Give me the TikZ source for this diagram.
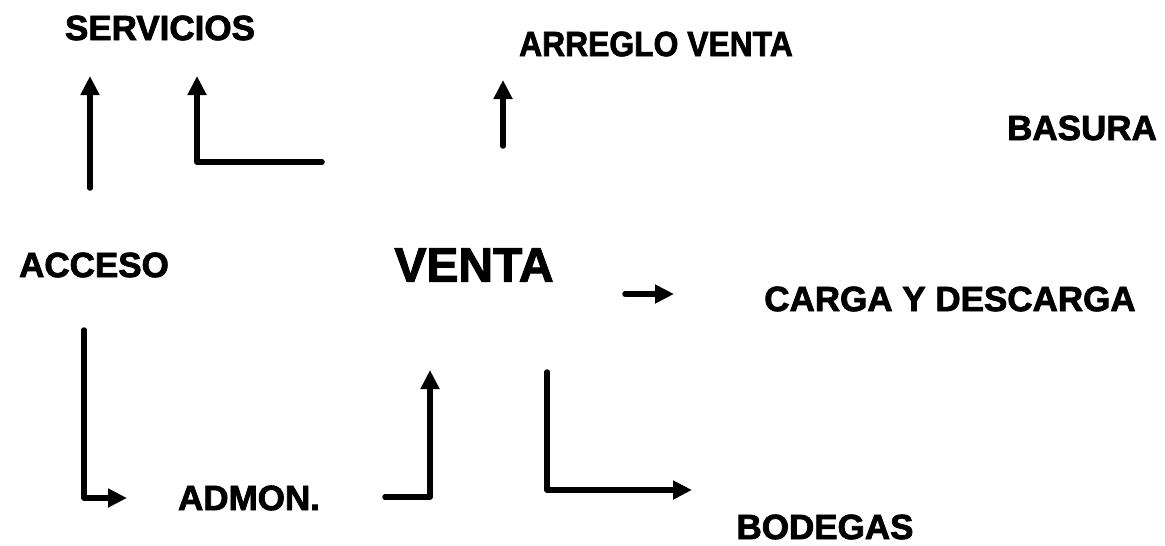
\documentclass[tikz,border=0pt]{standalone}
\usepackage{fontspec}
\setmainfont{Liberation Sans}[BoldFeatures={FakeBold=2.2}]
\usetikzlibrary{arrows.meta}
\begin{document}
\begin{tikzpicture}[x=1pt,y=-1pt,
  lbl/.style={font=\bfseries\fontsize{35}{40}\selectfont, inner sep=0pt, anchor=center},
  big/.style={font=\bfseries\fontsize{48}{54}\selectfont, inner sep=0pt, anchor=center},
  arr/.style={line width=5.5pt, line cap=round, line join=round, -{Triangle[length=19pt,width=18pt]}}]
\useasboundingbox (0,0) rectangle (1165,546);
\node[lbl] (serv) at (160,28) {SERVICIOS};
\node[lbl, xscale=0.91] (arr) at (656,44) {ARREGLO VENTA};
\node[lbl] (bas) at (1082,128) {BASURA};
\node[lbl] (acc) at (94,265) {ACCESO};
\node[big] (ven) at (474,265) {VENTA};
\node[lbl] (car) at (950,299) {CARGA Y DESCARGA};
\node[lbl] (adm) at (249,498) {ADMON.};
\node[lbl] (bod) at (825,527) {BODEGAS};
% coordinates
\coordinate (a1s) at (90,188); \coordinate (a1e) at (90,76);
\coordinate (a2s) at (322,162); \coordinate (a2c) at (197,162); \coordinate (a2e) at (197,76);
\coordinate (a3s) at (503,146); \coordinate (a3e) at (503,80);
\coordinate (a4s) at (625,294); \coordinate (a4e) at (674,294);
\coordinate (a5s) at (84,330); \coordinate (a5c) at (84,498); \coordinate (a5e) at (127,498);
\coordinate (a6s) at (385,497); \coordinate (a6c) at (430,497); \coordinate (a6e) at (430,370);
\coordinate (a7s) at (547,372); \coordinate (a7c) at (547,490); \coordinate (a7e) at (692,490);
\draw[arr] (a1s) -- (a1e);
\draw[arr] (a2s) -- (a2c) -- (a2e);
\draw[arr] (a3s) -- (a3e);
\draw[arr] (a4s) -- (a4e);
\draw[arr] (a5s) -- (a5c) -- (a5e);
\draw[arr] (a6s) -- (a6c) -- (a6e);
\draw[arr] (a7s) -- (a7c) -- (a7e);
\end{tikzpicture}
\end{document}
